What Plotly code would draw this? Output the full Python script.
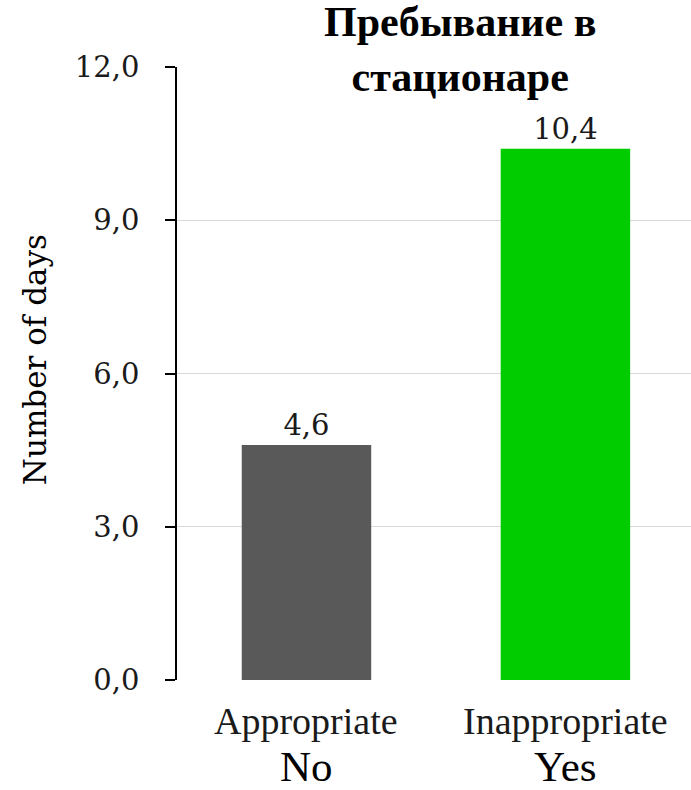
import plotly.graph_objects as go

# Length of stay by appropriateness of hospitalisation
categories = ["Appropriate", "Inappropriate"]
groups = ["No", "Yes"]
days = [4.6, 10.4]
bar_colors = ["#595959", "#00cc00"]
y_ticks = [0, 3, 6, 9, 12]

fig = go.Figure()
fig.add_trace(go.Bar(
    x=categories,
    y=days,
    width=0.5,
    marker=dict(color=bar_colors, line=dict(width=0)),
    texttemplate="%{y:.1f}",
    textposition="outside",
    cliponaxis=False,
    textfont=dict(family="DejaVu Serif", size=29, color="#1a1a1a"),
    showlegend=False,
))

# Two label rows under each bar: category name, then the yes/no group
for cat, grp in zip(categories, groups):
    fig.add_annotation(
        x=cat, xref="x", y=-0.0669, yref="paper",
        text=cat, showarrow=False, yanchor="middle",
        font=dict(family="Liberation Serif", size=38, color="#1a1a1a"),
    )
    fig.add_annotation(
        x=cat, xref="x", y=-0.141, yref="paper",
        text=grp, showarrow=False, yanchor="middle",
        font=dict(family="Liberation Serif", size=43, color="#000000"),
    )

# Chart title
fig.add_annotation(
    x=0.55, xref="paper", y=1.028, yref="paper",
    text="<b>Пребывание в<br>стационаре</b>", showarrow=False,
    yanchor="middle", align="center",
    font=dict(family="Liberation Serif", size=42, color="#000000"),
)

# Y axis title
fig.add_annotation(
    x=-0.276, xref="paper", y=0.522, yref="paper",
    text="Number of days", showarrow=False, textangle=-90,
    xanchor="center", yanchor="middle",
    font=dict(family="DejaVu Serif", size=31, color="#000000"),
)

fig.update_layout(
    width=691, height=790,
    margin=dict(l=177, r=0, t=67, b=110),
    paper_bgcolor="white", plot_bgcolor="white",
    separators=", ",
)
fig.update_xaxes(
    type="category",
    range=[-0.5, 1.485],
    showgrid=False, showline=False, zeroline=False,
    ticks="", showticklabels=False,
)
fig.update_yaxes(
    range=[0, 12],
    tickvals=y_ticks,
    tickformat=".1f",
    showgrid=True, gridcolor="#d9d9d9", gridwidth=1,
    zeroline=False,
    showline=True, linecolor="#000000", linewidth=1.5,
    ticks="outside", ticklen=10, tickcolor="#000000", tickwidth=1.5,
    ticklabelstandoff=20,
    tickfont=dict(family="DejaVu Serif", size=29, color="#1a1a1a"),
)

fig.write_html("out.html")
